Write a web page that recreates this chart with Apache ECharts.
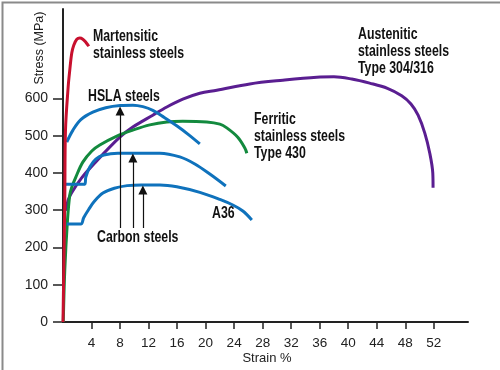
<!DOCTYPE html>
<html><head><meta charset="utf-8">
<script src="https://cdn.jsdelivr.net/npm/echarts@6/dist/echarts.min.js"></script>
<style>html,body{margin:0;padding:0;background:#fff}#c{width:500px;height:370px}</style>
</head><body><div id="c"></div>
<script>
const xTicks = [4,8,12,16,20,24,28,32,36,40,44,48,52];
const yTicks = [0,100,200,300,400,500,600];
const martensitic = [[0,0],[0.25,327],[0.35,515],[0.72,630],[0.95,676],[1.23,722],[1.51,743],[1.94,759],[2.36,762],[2.78,759],[3.2,751],[3.62,740]];
const hsla = [[0.53,483],[1.4,515],[2.5,543],[4.18,563],[6.0,575],[8.0,581],[9.8,582],[11.2,578],[12.6,568],[14.2,549],[16,526],[17.6,503],[19.19,478]];
const carbonMid = [[0.39,370],[3.06,370],[3.2,389],[3.76,416],[4.6,437],[5.72,448],[7.69,453],[10.77,453],[13.58,453],[16.38,443],[18.49,424],[20.59,397],[22.83,365]];
const a36 = [[0.53,263],[2.5,263],[2.9,280],[3.6,302],[4.4,324],[5.6,346],[7.2,359],[9.0,366],[11,368],[13.6,368],[15.96,363],[19.19,348],[22.0,329],[23.82,314],[25.22,298],[26.48,274]];
const ferritic = [[0.04,0],[0.25,140],[0.63,274],[0.95,341],[1.23,362],[1.8,389],[2.78,429],[4.04,459],[5.16,475],[7.55,499],[9.79,515],[12.17,529],[14.56,537],[16.8,539],[20.17,537],[22.0,531],[22.97,521],[24.51,496],[25.5,467],[25.78,453]];
const austenitic = [[0.45,298],[0.7,326],[1.19,346],[2.59,386],[4.46,427],[7.97,496],[9.79,523],[12.59,555],[14.56,577],[16.8,598],[19.19,614],[21.57,622],[26.2,639],[30.83,649],[35.6,657],[38.0,658],[40.5,652],[43.0,641],[45.5,627],[47.5,607],[48.8,585],[49.8,555],[50.74,507],[51.44,453],[51.86,400],[51.9,360]];
const arrows = [[8,252,566],[9.8,252,440],[11.2,252,354]];

const chart = echarts.init(document.getElementById('c'), null, {renderer:'canvas'});
const RED='#c8102e', BLUE='#0f72bc', GREEN='#138a3e', PURPLE='#5a1e91';
function curve(data,color,z){return {type:'line',data:data,showSymbol:false,smooth:0.35,z:z,lineStyle:{color:color,width:3},silent:true,animation:false};}
const boldFont = '"Liberation Sans Narrow","Arial Narrow","Liberation Sans",sans-serif';
function label(text,x,y){return {type:'text',x:x,y:y,scaleX:0.77,style:{text:text,font:'bold 16px '+boldFont,lineHeight:17,fill:'#111'}};}
chart.setOption({
  animation:false,
  grid:{left:63,top:9,right:32,bottom:48},
  xAxis:{type:'value',min:0,max:56.8,
    axisLine:{lineStyle:{color:'#222',width:2}},
    axisTick:{show:true,length:7,customValues:xTicks,lineStyle:{color:'#222',width:1.5}},
    axisLabel:{customValues:xTicks,margin:14,fontSize:13.5,color:'#222',fontFamily:'"Liberation Sans",Arial,sans-serif'},
    splitLine:{show:false}},
  yAxis:{type:'value',min:0,max:840,
    axisLine:{show:true,lineStyle:{color:'#222',width:2}},
    axisTick:{show:true,length:10,customValues:yTicks,lineStyle:{color:'#222',width:1.5}},
    axisLabel:{customValues:yTicks,margin:15,fontSize:14,color:'#222',fontFamily:'"Liberation Sans",Arial,sans-serif'},
    splitLine:{show:false}},
  series:[
    curve(austenitic,PURPLE,3),
    curve(ferritic,GREEN,4),
    curve(a36,BLUE,5),
    curve(carbonMid,BLUE,5),
    curve(hsla,BLUE,5),
    curve(martensitic,RED,6),
    {type:'lines',coordinateSystem:'cartesian2d',z:7,silent:true,animation:false,
     symbol:['none','triangle'],symbolSize:[7,9],
     lineStyle:{color:'#111',width:1.2,opacity:1},
     data:arrows.map(a=>({coords:[[a[0],a[1]],[a[0],a[2]]]}))}
  ],
  graphic:[
    {type:'rect',left:0,top:0,shape:{width:499,height:369},style:{fill:'none',stroke:'#8a8a8a',lineWidth:2},silent:true},
    label('Martensitic\nstainless steels',93,28),
    label('HSLA steels',88,88),
    label('Austenitic\nstainless steels\nType 304/316',358,26),
    label('Ferritic\nstainless steels\nType 430',254,111),
    label('Carbon steels',97,229),
    label('A36',212,205),
    {type:'text',x:40,y:48,rotation:Math.PI/2,style:{text:'Stress (MPa)',font:'12.5px "Liberation Sans",Arial,sans-serif',fill:'#222',align:'center',verticalAlign:'middle'}},
    {type:'text',x:267,y:358,style:{text:'Strain %',font:'13px "Liberation Sans",Arial,sans-serif',fill:'#222',align:'center',verticalAlign:'middle'}}
  ]
});
</script></body></html>
